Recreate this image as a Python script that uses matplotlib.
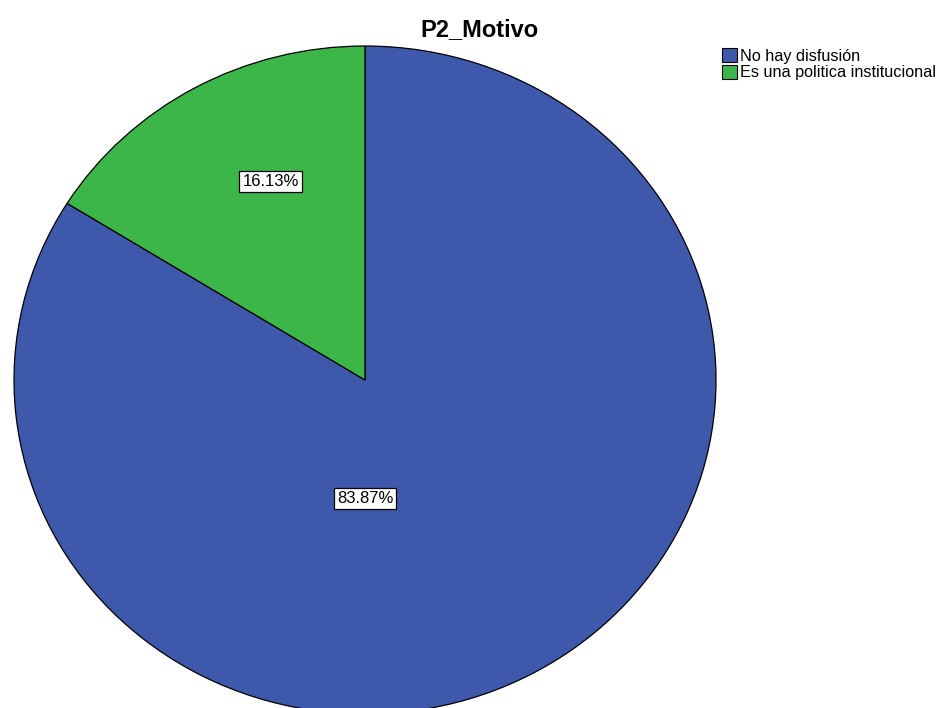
import numpy as np
import matplotlib.pyplot as plt

plt.rcParams['font.family'] = ['Liberation Sans', 'DejaVu Sans']

# data
categories = ['No hay disfusión', 'Es una politica institucional']
percentages = [83.87, 16.13]
colors = ['#3E58AC', '#3DB649']
title = 'P2_Motivo'

fig = plt.figure(figsize=(9.4, 7.08), dpi=100)
W, H = 940, 708

# pie area in pixel coords (slightly elliptical, bottom cut off)
left, top, right, bottom = 14, 46, 716, 714
ax = fig.add_axes([left / W, (H - bottom) / H, (right - left) / W, (bottom - top) / H])

wedges, texts, autotexts = ax.pie(
    percentages, colors=colors, startangle=90, counterclock=False,
    autopct='%.2f%%',
    wedgeprops=dict(edgecolor='black', linewidth=0.9),
    textprops=dict(fontsize=12, color='black'))
ax.set_aspect('auto')
ax.set_xlim(-1, 1)
ax.set_ylim(-1, 1)
ax.axis('off')

# label spots as SPSS places them
autotexts[0].set_position((0.0, -0.355))
autotexts[1].set_position((-0.269, 0.594))
for t in autotexts:
    t.set_va('center')
    t.set_bbox(dict(facecolor='white', edgecolor='black', linewidth=0.9, pad=2.2))

fig.text(479 / W, 1 - 30 / H, title, ha='center', va='center',
         fontsize=17, fontweight='bold')

# legend
handles = [plt.Rectangle((0, 0), 1, 1, facecolor=c, edgecolor='black', linewidth=0.8)
           for c in colors]
fig.legend(handles, categories, loc='upper left', bbox_to_anchor=(722 / W, 1 - 48 / H),
           frameon=False, fontsize=11.7, handlelength=0.95, handleheight=0.95,
           handletextpad=0.15, labelspacing=0.08, borderpad=0, borderaxespad=0)

fig.savefig('out.png', dpi=100)
